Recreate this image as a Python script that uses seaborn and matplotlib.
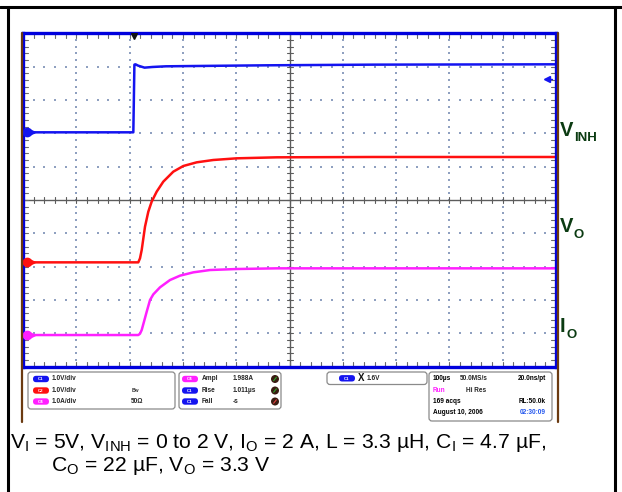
import matplotlib
matplotlib.use("Agg")
import matplotlib.pyplot as plt
from matplotlib.patches import FancyBboxPatch, Circle
import numpy as np
import pandas as pd
import seaborn as sns

# ---------------- data ----------------
# time in microseconds relative to trigger, values in V / A
t_inh_us = [-208, -1, 0, 1, 3, 8, 20, 35, 60, 120, 250, 450, 792]
v_inh = [0.0, 0.0, 1.0, 2.03, 2.04, 2.0, 1.94, 1.96, 1.98, 1.99, 2.01, 2.03, 2.04]

t_vo_us = [-208, 8.3, 11.5, 14.7, 20.9, 27.1, 33.4, 42.8, 55.2, 74.0, 92.8, 117.9,
           149.0, 192.9, 267.9, 450, 792]
v_o = [0.0, 0.0, 0.12, 0.37, 1.07, 1.52, 1.82, 2.12, 2.42, 2.72, 2.89, 3.0,
       3.07, 3.12, 3.15, 3.16, 3.16]

t_io_us = [-208, 8.3, 11.5, 14.7, 19.0, 24.1, 30.3, 36.5, 49.0, 67.8, 86.5, 111.5,
           143.0, 193.0, 268.0, 450, 792]
i_o = [0.0, 0.0, 0.04, 0.15, 0.40, 0.70, 1.05, 1.22, 1.43, 1.65, 1.78, 1.88,
       1.95, 1.98, 2.0, 2.0, 2.0]

channel_names = ["C1", "C2", "C4"]
channel_scales = ["1.0V/div", "1.0V/div", "1.0A/div"]
meas_names = ["Ampl", "Rise", "Fall"]
meas_values = ["1.988A", "1.011\u00b5s", "-s"]
meas_channels = ["C4", "C1", "C1"]
trig_level = "1.6V"
acq_rows = [("100\u00b5s", "50.0MS/s", "20.0ns/pt"), ("Run", "Hi Res", ""),
            ("169 acqs", "", "RL:50.0k"), ("August 10, 2006", "", "02:30:09")]
trace_labels = [("V", "INH"), ("V", "O"), ("I", "O")]

# ---------------- styling / layout constants ----------------
W, H = 622, 492
US_PER_DIV = 100.0
TRIG_POS_DIV = 2.08
OFF_INH, OFF_VO, OFF_IO = 7.03, 3.13, 0.95
COL = {"C1": "#1414f0", "C2": "#ff1010", "C4": "#ff20ff"}
LABEL_GREEN = "#0b3b12"
FONT = "Liberation Sans"

sns.set_style("white")
plt.rcParams["font.family"] = [FONT, "DejaVu Sans"]
plt.rcParams["mathtext.fontset"] = "custom"
plt.rcParams["mathtext.rm"] = FONT

fig = plt.figure(figsize=(W / 100, H / 100), dpi=100)
fig.patch.set_facecolor("white")

# scope graticule axes (pixel box 23..556 x 33.3..366.7)
x0, x1, y0, y1 = 23, 556, 33.3, 366.7
ax = fig.add_axes([x0 / W, 1 - y1 / H, (x1 - x0) / W, (y1 - y0) / H])
ax.set_xlim(0, 10)
ax.set_ylim(0, 10)
ax.set_xticks([])
ax.set_yticks([])
for s in ax.spines.values():
    s.set_color("#0000dd")
    s.set_linewidth(2.4)
    s.set_zorder(6)

# dotted grid
gx, gy = [], []
minor = np.arange(0.2, 10.0, 0.2)
for i in range(1, 10):
    if i == 5:
        continue
    gx += list(minor)
    gy += [i] * len(minor)
    gx += [i] * len(minor)
    gy += list(minor)
ax.scatter(gx, gy, s=0.9, marker="s", color="#8fa0c0", linewidths=0, zorder=1)

# center cross with ticks
ax.axhline(5, color="#5c5c5c", lw=1.0, zorder=2)
ax.axvline(5, color="#5c5c5c", lw=1.0, zorder=2)
dyc, dxc = 3 / 33.34, 3 / 53.3
for m in minor:
    ax.plot([m, m], [5 - dyc, 5 + dyc], color="#5c5c5c", lw=0.8, zorder=2)
    ax.plot([5 - dxc, 5 + dxc], [m, m], color="#5c5c5c", lw=0.8, zorder=2)
# border ticks
dyb, dxb = 5 / 33.34, 5 / 53.3
for m in minor:
    ax.plot([m, m], [10, 10 - dyb], color="#6c6c6c", lw=0.8, zorder=2)
    ax.plot([m, m], [0, dyb], color="#6c6c6c", lw=0.8, zorder=2)
    ax.plot([0, dxb], [m, m], color="#6c6c6c", lw=0.8, zorder=2)
    ax.plot([10, 10 - dxb], [m, m], color="#6c6c6c", lw=0.8, zorder=2)

# traces
def to_div(t_list, vals, off):
    return pd.DataFrame({"x": [t / US_PER_DIV + TRIG_POS_DIV for t in t_list],
                         "y": [off + v for v in vals]})

d_inh = to_div(t_inh_us, v_inh, OFF_INH)
d_vo = to_div(t_vo_us, v_o, OFF_VO)
d_io = to_div(t_io_us, i_o, OFF_IO)
for d, c in [(d_io, COL["C4"]), (d_vo, COL["C2"]), (d_inh, COL["C1"])]:
    sns.lineplot(data=d, x="x", y="y", ax=ax, color=c, lw=1.8, estimator=None,
                 sort=False, zorder=4)
ax.set_xlabel("")
ax.set_ylabel("")

# ground markers, trigger markers
for off, c in [(OFF_INH, COL["C1"]), (OFF_VO, COL["C2"]), (OFF_IO, COL["C4"])]:
    ax.plot([0.07], [off], marker="o", ms=6, color=c, clip_on=False, zorder=7)
    ax.plot([0.17], [off], marker=">", ms=4, color=c, clip_on=False, zorder=7)
ax.plot([TRIG_POS_DIV], [9.93], marker="v", ms=5, color="#111111", zorder=7)
ax.plot([9.83], [OFF_INH + float(trig_level[:-1])], marker="<", ms=4,
        color=COL["C1"], zorder=7)
ax.plot([9.83, 9.93], [OFF_INH + 1.6] * 2, color=COL["C1"], lw=1, zorder=7)

# ---------------- overlay in pixel coordinates ----------------
ov = fig.add_axes([0, 0, 1, 1])
ov.set_xlim(0, W)
ov.set_ylim(H, 0)
ov.axis("off")
ov.patch.set_alpha(0)

# outer frame
ov.plot([0, W], [7, 7], color="black", lw=2.2)
ov.plot([7.5, 7.5], [7, H], color="black", lw=2.2)
ov.plot([614.5, 614.5], [7, H], color="black", lw=2.2)
# brown scope edges
ov.plot([21.5, 21.5], [33, 421.5], color="#6b3a10", lw=1.6)
ov.plot([557.8, 557.8], [33, 421.5], color="#6b3a10", lw=1.6)

# trace labels on the right
for (main, sub), yb in zip(trace_labels, [135.5, 232, 332]):
    ov.text(559.5, yb, main, fontsize=14.5, fontweight="bold", color=LABEL_GREEN,
            ha="left", va="baseline")
    ov.text(574 if main == "V" else 566.5, yb + 5.5, sub, fontsize=9.5,
            fontweight="bold", color=LABEL_GREEN, ha="left", va="baseline")

# readout panels
def panel(xa, xb, ya, yb):
    ov.add_patch(FancyBboxPatch((xa, ya), xb - xa, yb - ya,
                                boxstyle="round,pad=0,rounding_size=3",
                                fc="white", ec="#8a8a8a", lw=0.9))

def badge(xc, yc, name):
    ov.add_patch(FancyBboxPatch((xc - 8, yc - 3.2), 16, 6.4,
                                boxstyle="round,pad=0,rounding_size=3.2",
                                fc=COL[name], ec="none"))
    ov.text(xc, yc + 0.2, name, fontsize=3.2, color="white", fontweight="bold",
            ha="center", va="center")

FS = 4.7
rows = [379, 390.5, 401.5, 412.5]
panel(28, 175, 372, 409)
for r, n, s in zip(rows, channel_names, channel_scales):
    badge(41, r, n)
    ov.text(52, r, s, fontsize=FS, fontweight="bold", ha="left", va="center")
ov.text(131, rows[1], "B$_\\mathregular{W}$", fontsize=3.8, fontweight="bold",
        ha="left", va="center", color="#333333")
ov.text(131, rows[2], "50\u03a9", fontsize=FS, fontweight="bold", ha="left", va="center")

panel(179, 281, 372, 409)
status_cols = ["#2aa02a", "#2aa02a", "#e04040"]
for r, mn, mv, mch, sc in zip(rows, meas_names, meas_values, meas_channels,
                              status_cols):
    badge(190, r, mch)
    ov.text(201.5, r, mn, fontsize=FS, fontweight="bold", ha="left", va="center")
    ov.text(233, r, mv, fontsize=FS, fontweight="bold", ha="left", va="center")
    ov.add_patch(Circle((275, r), 4.0, fc="#3a1c12", ec="none"))
    ov.plot([273.6, 276.4], [r + 1.7, r - 1.7], color=sc, lw=0.8)

panel(327, 427, 372, 384.5)
badge(347, 378.3, "C1")
ov.text(361, 378.3, "X", fontsize=7, fontweight="bold", ha="center", va="center",
        color="#111111")
ov.text(366.5, 378.3, trig_level, fontsize=FS, fontweight="bold", ha="left",
        va="center")

panel(429, 552, 372, 421)
for r, (a, b, c) in zip(rows, acq_rows):
    ov.text(433, r, a, fontsize=FS, fontweight="bold", ha="left", va="center",
            color=COL["C4"] if a == "Run" else "black")
    if b:
        ov.text(460 if r == rows[0] else 466, r, b, fontsize=FS, fontweight="bold",
                ha="left", va="center")
    if c:
        ov.text(546, r, c, fontsize=FS, fontweight="bold", ha="right", va="center",
                color="#2255ee" if c == "02:30:09" else "black")

# caption
cap1 = ("V$_\\mathregular{I}$ = 5V, V$_\\mathregular{INH}$ = 0 to 2 V, "
        "I$_\\mathregular{O}$ = 2 A, L = 3.3 \u00b5H, C$_\\mathregular{I}$ = 4.7 \u00b5F,")
cap2 = "C$_\\mathregular{O}$ = 22 \u00b5F, V$_\\mathregular{O}$ = 3.3 V"
ov.text(10, 448, cap1, fontsize=15.2, ha="left", va="baseline", color="black")
ov.text(51, 471, cap2, fontsize=15.2, ha="left", va="baseline", color="black")

fig.savefig("out.png", dpi=100, facecolor="white")
